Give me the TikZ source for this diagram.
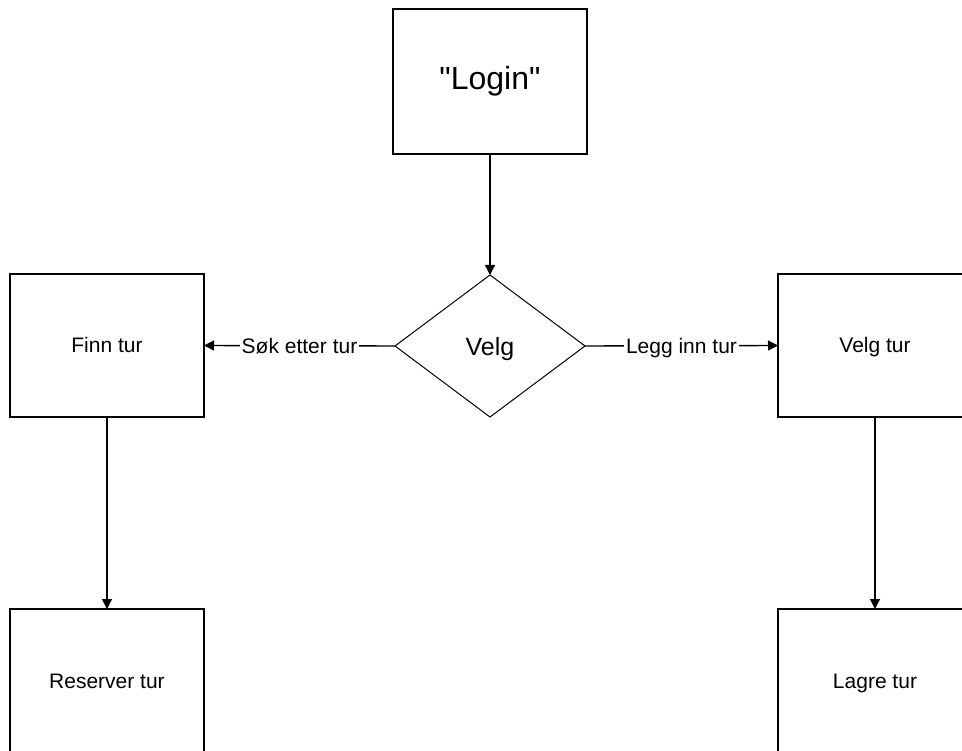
\documentclass[tikz,border=0pt]{standalone}
\usepackage{fontspec}
\setmainfont{Liberation Sans}[Ligatures=TeXOff]
\usetikzlibrary{shapes.geometric,arrows.meta}
\begin{document}
\begin{tikzpicture}[x=1pt,y=-1pt,
  box/.style={draw, line width=1.4pt, minimum width=194pt, minimum height=143pt, inner sep=0pt, outer sep=0pt, text height=19.5pt, text depth=4.5pt, font=\fontsize{21}{25}\selectfont},
  dec/.style={draw, shape=diamond, line width=1pt, minimum width=190pt, minimum height=142pt, inner sep=0pt, outer sep=0pt, text height=25pt, text depth=5pt, font=\fontsize{25}{30}\selectfont},
  conn/.style={line width=1.4pt, -{Triangle[length=10pt,width=10pt]}},
  lbl/.style={fill=white, inner sep=2pt, text height=19.5pt, text depth=4.5pt, font=\fontsize{21}{25}\selectfont}]
\useasboundingbox (0,0) rectangle (962,751);
\node[box, minimum height=145pt, text height=23pt, text depth=7pt, font=\fontsize{32}{38}\selectfont] (login) at (490,81.5) {"Login"};
\node[dec] (velg) at (490,346) {Velg};
\node[box] (finn) at (107,345.5) {Finn tur};
\node[box] (velgtur) at (875,345.5) {Velg tur};
\node[box] (reserver) at (107,680.5) {Reserver tur};
\node[box] (lagre) at (875,680.5) {Lagre tur};
\draw[conn] (login.south) -- (velg.north);
\draw[conn] (velg.west) -- node[lbl] {Søk etter tur} (finn.east);
\draw[conn] (velg.east) -- node[lbl] {Legg inn tur} (velgtur.west);
\draw[conn] (finn.south) -- (reserver.north);
\draw[conn] (velgtur.south) -- (lagre.north);
\end{tikzpicture}
\end{document}
